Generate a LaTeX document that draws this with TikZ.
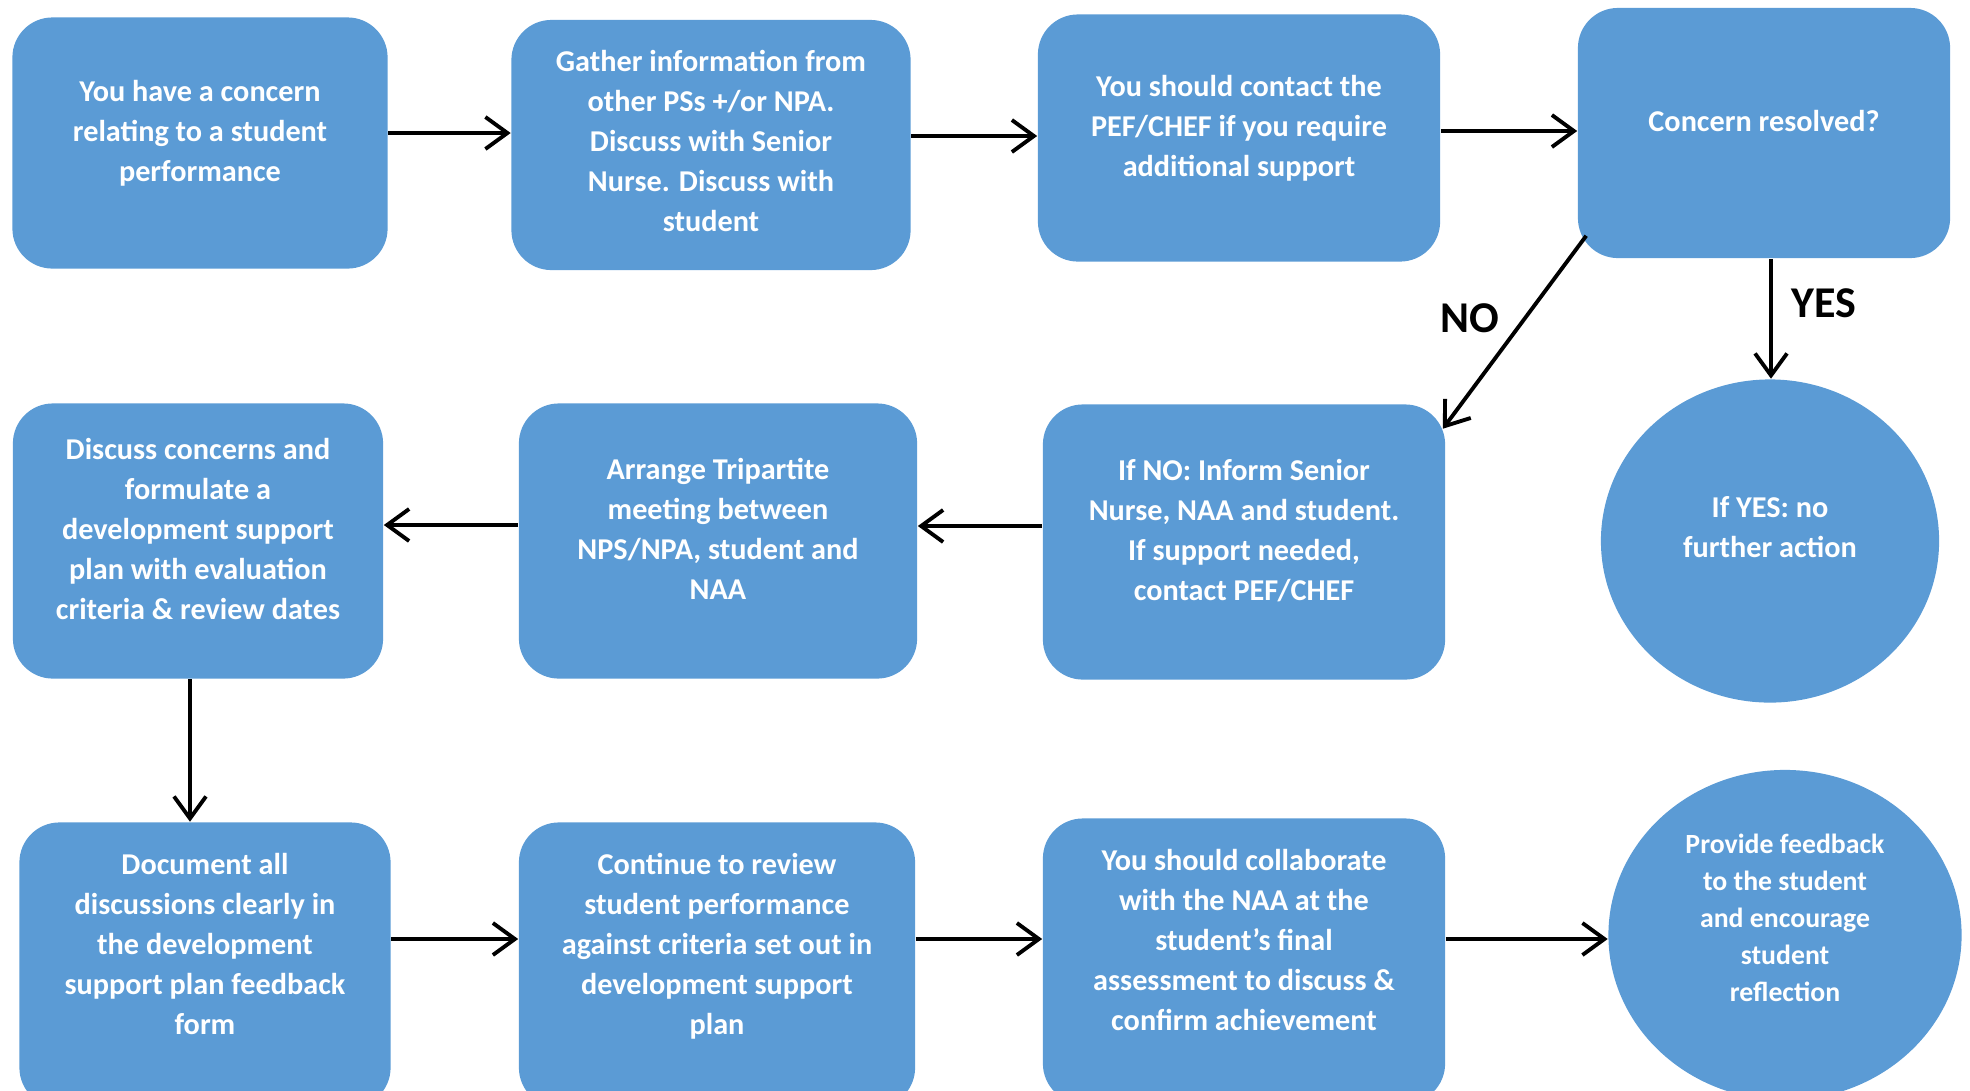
\documentclass[tikz,border=0pt]{standalone}
\usepackage{fontspec}
\setmainfont{Carlito}
\usetikzlibrary{arrows.meta,shapes.geometric}
\definecolor{stepblue}{RGB}{91,155,213}

\begin{document}
\begin{tikzpicture}[x=0.01cm,y=-0.01cm,font=\bfseries,>={Straight Barb[length=2.2mm,width=3.2mm,line width=1.1pt]},
  box/.style={fill=stepblue,text=white,rounded corners=0.4cm,inner sep=0pt,align=center,text depth=7pt,font=\bfseries\fontsize{8.6}{11.4}\selectfont},
  oval/.style={ellipse,fill=stepblue,text=white,inner sep=0pt,align=center},
  arr/.style={->,line width=1.1pt},
  answer/.style={font=\bfseries\fontsize{12.5}{14}\selectfont}]
\useasboundingbox (0,0) rectangle (1970,1090);
\clip (0,0) rectangle (1970,1090);
% top row
\node[box,minimum width=3.75cm,minimum height=2.51cm] (b1) at (200,143) {You have a concern\\relating to a student\\performance};
\node[box,minimum width=3.99cm,minimum height=2.50cm,text depth=2.5pt] (b2) at (711,145) {Gather information from\\other PSs +/or NPA.\\Discuss with Senior\\Nurse. Discuss with\\student};
\node[box,minimum width=4.02cm,minimum height=2.47cm] (b3) at (1239,138) {You should contact the\\PEF/CHEF if you require\\additional support};
\node[box,minimum width=3.72cm,minimum height=2.50cm] (b4) at (1764,133) {Concern resolved?};
% middle row
\node[box,minimum width=3.70cm,minimum height=2.75cm] (b5) at (198,541) {Discuss concerns and\\formulate a\\development support\\plan with evaluation\\criteria \& review dates};
\node[box,minimum width=3.98cm,minimum height=2.75cm] (b6) at (718,541) {Arrange Tripartite\\meeting between\\NPS/NPA, student and\\NAA};
\node[box,minimum width=4.02cm,minimum height=2.75cm] (b7) at (1244,542) {If NO: Inform Senior\\Nurse, NAA and student.\\If support needed,\\contact PEF/CHEF};
\node[oval,minimum width=3.38cm,minimum height=3.23cm,text depth=8pt,font=\bfseries\fontsize{8.6}{11.4}\selectfont] (c1) at (1770,541) {If YES: no\\further action};
% bottom row
\node[box,minimum width=3.71cm,minimum height=2.85cm,text depth=12pt] (b8) at (205,965) {Document all\\discussions clearly in\\the development\\support plan feedback\\form};
\node[box,minimum width=3.96cm,minimum height=2.85cm,text depth=12pt] (b9) at (717,965) {Continue to review\\student performance\\against criteria set out in\\development support\\plan};
\node[box,minimum width=4.02cm,minimum height=2.85cm,text depth=12pt] (b10) at (1244,961) {You should collaborate\\with the NAA at the\\student’s final\\assessment to discuss \&\\confirm achievement};
\node[oval,minimum width=3.53cm,minimum height=3.30cm,text depth=10pt,font=\bfseries\fontsize{7.9}{10.5}\selectfont] (c2) at (1785,935) {Provide feedback\\to the student\\and encourage\\student\\reflection};
% connectors
\draw[arr] ([yshift=1mm]b1.east) -- ([yshift=1mm]b1.east -| b2.west);
\draw[arr] ([yshift=0.9mm]b2.east) -- ([yshift=0.9mm]b2.east -| b3.west);
\draw[arr] ([yshift=0.7mm]b3.east) -- ([yshift=0.7mm]b3.east -| b4.west);
\draw[arr] ([shift={(9,-23)}]b4.south west) -- ([shift={(-3,25)}]b7.north east);
\draw[arr] ([xshift=0.7mm]b4.south) -- ([xshift=0.7mm]b4.south |- c1.north);
\node[answer] (no) at (1470,318) {NO};
\node[answer] (yes) at (1824,303) {YES};
\draw[arr] ([yshift=1.6mm]b7.west) -- ([yshift=1.6mm]b7.west -| b6.east);
\draw[arr] ([yshift=1.6mm]b6.west) -- ([yshift=1.6mm]b6.west -| b5.east);
\draw[arr] ([xshift=-0.8mm]b5.south) -- ([xshift=-0.8mm]b5.south |- b8.north);
\draw[arr] ([yshift=2.6mm]b8.east) -- ([yshift=2.6mm]b8.east -| b9.west);
\draw[arr] ([yshift=2.6mm]b9.east) -- ([yshift=2.6mm]b9.east -| b10.west);
\draw[arr] ([yshift=2.2mm]b10.east) -- ([yshift=2.2mm]b10.east -| c2.west);
\end{tikzpicture}
\end{document}
